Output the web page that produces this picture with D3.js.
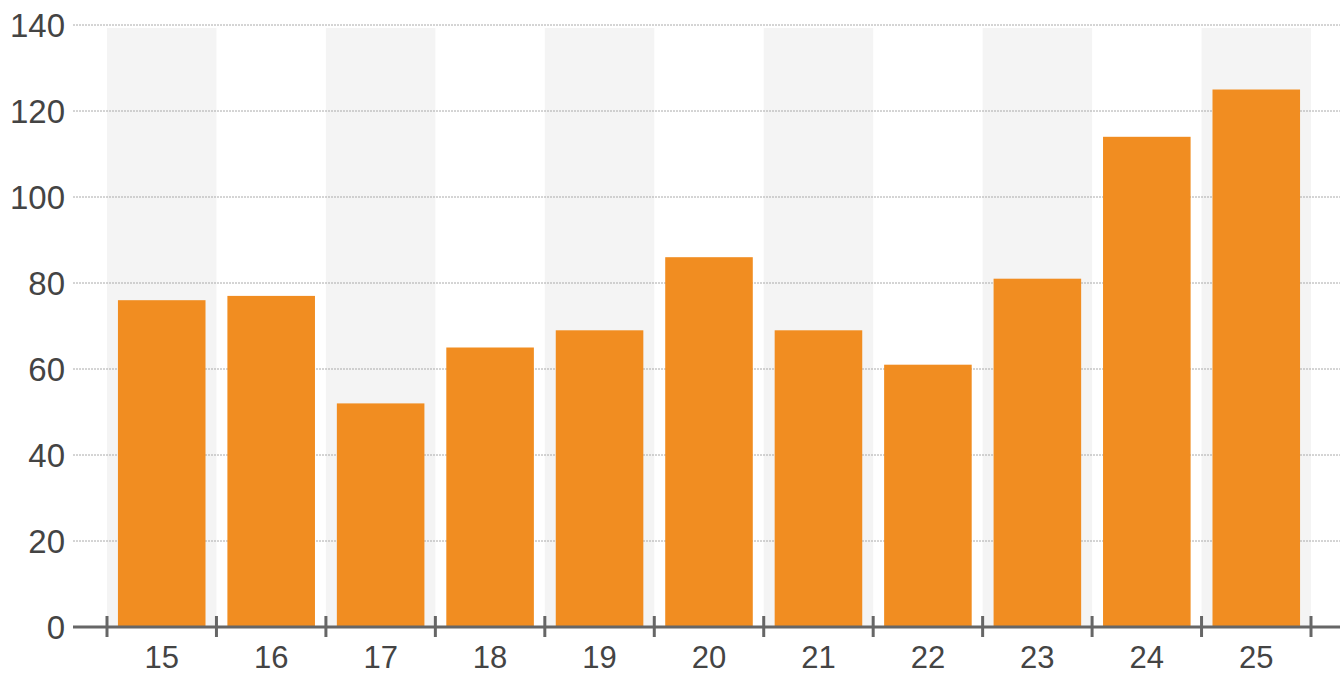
<!DOCTYPE html>
<html><head><meta charset="utf-8">
<script src="https://cdn.jsdelivr.net/npm/d3@7"></script>
<style>body{margin:0;background:#fff}svg{display:block}</style>
</head><body><svg id="c" width="1340" height="675"></svg>
<script>
const categories = ["15","16","17","18","19","20","21","22","23","24","25"];
const values = [76,77,52,65,69,86,69,61,81,114,125];
const yTicks = [0,20,40,60,80,100,120,140];

const svg = d3.select("#c");
const x = d3.scaleBand().domain(categories).range([107,1311]).paddingInner(0.2).paddingOuter(0.1);
const y = d3.scaleLinear().domain([0,140]).range([627,25]);
const font = "'Liberation Sans', Arial, sans-serif";

// alternating band shading
svg.append("g").selectAll("rect").data(categories.filter((d,i)=>i%2===0)).join("rect")
  .attr("x", d => x(d) - x.step()*x.paddingOuter())
  .attr("width", x.step())
  .attr("y", y(140)+3).attr("height", y(0)-y(140)-3)
  .attr("fill", "#f4f4f4");

// gridlines
svg.append("g").selectAll("line").data(yTicks.filter(d=>d>0)).join("line")
  .attr("x1", 73).attr("x2", 1340)
  .attr("y1", d=>y(d)).attr("y2", d=>y(d))
  .attr("stroke", "#aaa").attr("stroke-width", 1).attr("stroke-dasharray", "2,1");

// y labels
svg.append("g").selectAll("text").data(yTicks).join("text")
  .attr("x", 65).attr("y", d=>y(d)).attr("dy", "0.35em")
  .attr("text-anchor", "end").attr("font-family", font).attr("font-size", 33).attr("fill", "#444")
  .text(d=>d);

// bars
svg.append("g").selectAll("rect").data(values).join("rect")
  .attr("x", (d,i)=>x(categories[i])).attr("width", x.bandwidth())
  .attr("y", d=>y(d)).attr("height", d=>y(0)-y(d))
  .attr("fill", "#f18d21");

// x axis line
svg.append("line").attr("x1", 73).attr("x2", 1340).attr("y1", y(0)).attr("y2", y(0))
  .attr("stroke", "#666").attr("stroke-width", 3);

// ticks at band edges
const edges = categories.map(c => x(c) - x.step()*x.paddingOuter()).concat([x(categories[categories.length-1]) + x.bandwidth() + x.step()*x.paddingOuter()]);
svg.append("g").selectAll("line").data(edges).join("line")
  .attr("x1", d=>d).attr("x2", d=>d).attr("y1", y(0)-11).attr("y2", y(0)+10)
  .attr("stroke", "#666").attr("stroke-width", 3);

// x labels
svg.append("g").selectAll("text").data(categories).join("text")
  .attr("x", d=>x(d)+x.bandwidth()/2).attr("y", 668)
  .attr("text-anchor","middle").attr("font-family", font).attr("font-size", 31).attr("fill", "#444")
  .text(d=>d);
</script></body></html>
